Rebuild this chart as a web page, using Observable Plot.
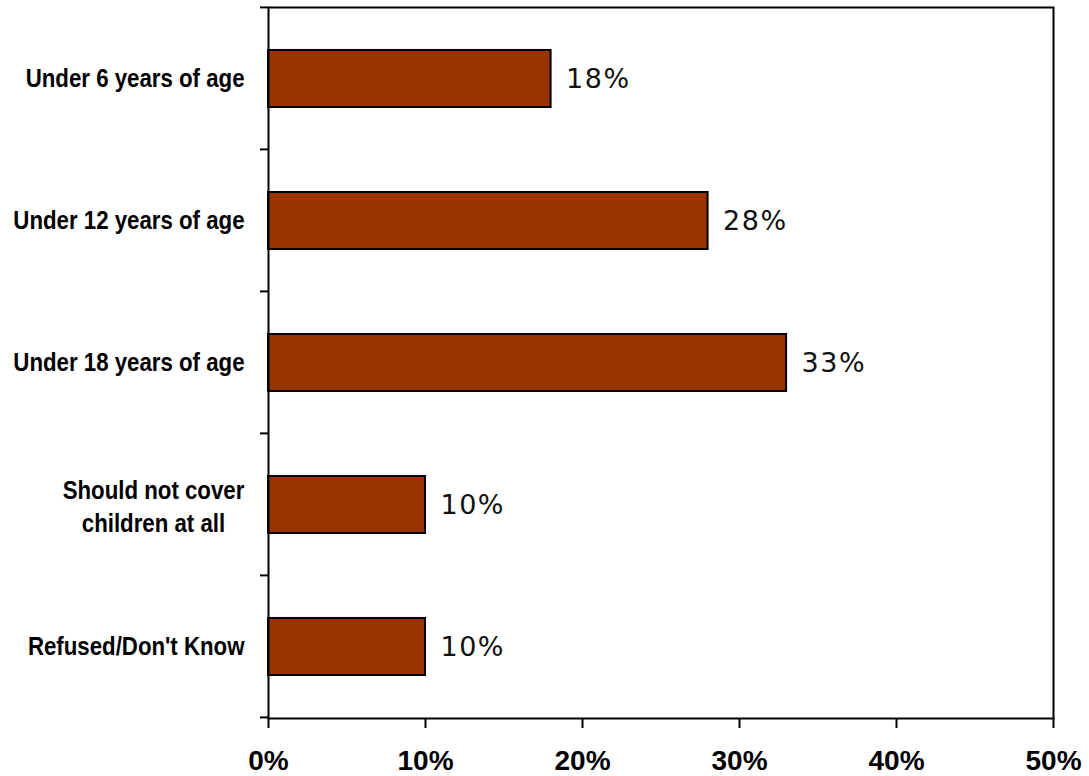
<!DOCTYPE html>
<html>
<head>
<meta charset="utf-8">
<script src="https://cdn.jsdelivr.net/npm/d3@7"></script>
<script src="https://cdn.jsdelivr.net/npm/@observablehq/plot@0.6"></script>
<style>
  html, body { margin: 0; padding: 0; background: #fff; }
  #chart { width: 1089px; height: 776px; }
  .vlabel text { letter-spacing: 1.5px; }
</style>
</head>
<body>
<div id="chart"></div>
<script>
const categories = [
  "Under 6 years of age",
  "Under 12 years of age",
  "Under 18 years of age",
  "Should not cover\nchildren at all",
  "Refused/Don't Know"
];
const values = [0.18, 0.28, 0.33, 0.10, 0.10];
const xTicks = [0, 0.1, 0.2, 0.3, 0.4, 0.5];

const data = categories.map((c, i) => ({category: c, value: values[i]}));
const pct = d3.format(".0%");
const single = data.filter(d => !d.category.includes("\n"));
const multi = data.filter(d => d.category.includes("\n"));

const labelFont = "'Liberation Sans Narrow', 'Arial Narrow', 'Liberation Sans', Arial, sans-serif";

const plot = Plot.plot({
  width: 1089,
  height: 776,
  marginLeft: 268,
  marginRight: 36,
  marginTop: 7,
  marginBottom: 58,
  style: {background: "#fff", overflow: "visible"},
  x: {domain: [0, 0.5], ticks: xTicks, label: null},
  y: {domain: categories, paddingInner: 0.6, paddingOuter: 0.3, label: null},
  marks: [
    Plot.barX(data, {x: "value", y: "category", fill: "#993300", stroke: "#000", strokeWidth: 2}),
    Plot.text(data, {
      x: "value", y: "category", text: d => pct(d.value),
      textAnchor: "start", dx: 15, fontSize: 27, fill: "#111",
      fontFamily: "DejaVu Sans", className: "vlabel"
    }),
    Plot.text(single, {
      x: 0, y: "category", text: "category", textAnchor: "end", dx: -24,
      fontSize: 25, fontWeight: "bold", fill: "#000",
      fontFamily: labelFont, className: "ylabel"
    }),
    Plot.text(multi, {
      x: 0, y: "category", text: "category", textAnchor: "middle", dx: -115,
      lineHeight: 1.3, fontSize: 25, fontWeight: "bold", fill: "#000",
      fontFamily: labelFont, className: "ylabel"
    }),
    Plot.axisX({
      ticks: xTicks, tickFormat: pct, tickSize: 10, tickPadding: 22,
      strokeWidth: 2, fontSize: 28, fontWeight: "bold", label: null,
      fontFamily: "'Liberation Sans', Arial, sans-serif", fill: "#000"
    }),
    Plot.axisY({ticks: [], label: null}),
    Plot.frame({stroke: "#000", strokeWidth: 2})
  ]
});

const svg = d3.select(plot.tagName === "svg" ? plot : plot.querySelector("svg"));

// Narrow the category labels (Arial Narrow look) around their anchor
svg.selectAll(".ylabel text").each(function() {
  const t = d3.select(this);
  const tr = t.attr("transform") || "";
  t.attr("transform", tr + " scale(0.89,1)");
});

// Left axis ticks at band boundaries, computed from the y scale
const ys = plot.scale("y");
const bounds = [];
const first = ys.apply(categories[0]) - ys.step * ys.paddingOuter;
for (let i = 0; i <= categories.length; i++) bounds.push(first + i * ys.step);
svg.append("g")
  .attr("stroke", "#000").attr("stroke-width", 2)
  .selectAll("line").data(bounds).join("line")
  .attr("x1", 268 - 8).attr("x2", 268)
  .attr("y1", d => d).attr("y2", d => d);

document.getElementById("chart").appendChild(plot);
</script>
</body>
</html>
